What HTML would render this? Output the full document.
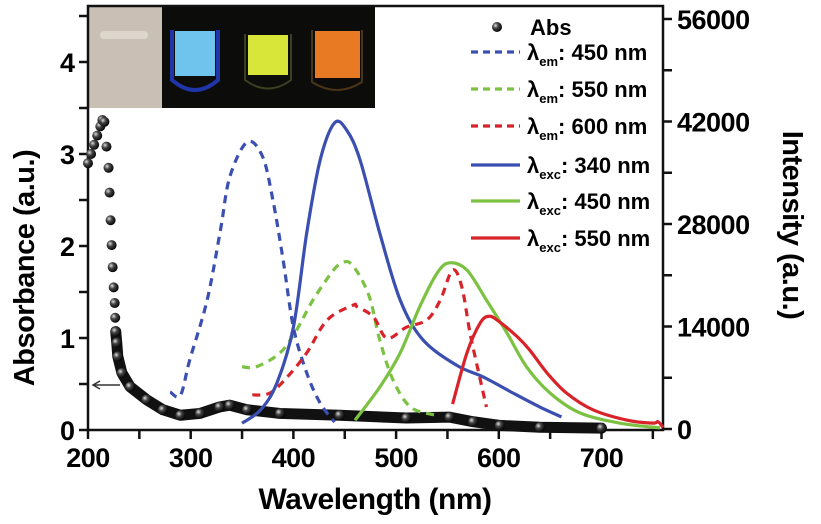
<!DOCTYPE html>
<html><head><meta charset="utf-8">
<style>
body{margin:0;background:#fff;}
svg{display:block;font-family:"Liberation Sans",Arial,sans-serif;font-weight:bold;}
</style></head>
<body>
<svg id="chart" width="821" height="524" viewBox="0 0 821 524" xmlns="http://www.w3.org/2000/svg">
<defs>
<radialGradient id="dotg" cx="0.35" cy="0.35" r="0.7">
<stop offset="0" stop-color="#ddd"/><stop offset="0.4" stop-color="#444"/><stop offset="1" stop-color="#000"/>
</radialGradient>
</defs>
<g id="inset">
<rect x="88" y="6" width="287" height="102" fill="#0c0c0a"/>
<rect x="88" y="6" width="74" height="102" fill="#c9bfb5"/>
<rect x="100" y="31" width="48" height="8" rx="4" fill="#ddd6cc"/>
<path d="M172 30V80Q195 100 218 80V30" fill="none" stroke="#1f35a8" stroke-width="4"/>
<rect x="175" y="31" width="40" height="45" fill="#6fc4ee"/>
<path d="M245 34V80Q268 97 291 80V34" fill="none" stroke="#3a4020" stroke-width="2"/>
<rect x="248" y="35" width="40" height="40" fill="#d8e63a"/>
<path d="M312 30V82Q337 98 362 82V30" fill="none" stroke="#4a3418" stroke-width="2"/>
<rect x="315" y="31" width="45" height="47" fill="#e77a22"/>
</g>
<g id="axes"></g>
<g id="series"></g>
<g id="legend"></g>
<text x="375" y="509" font-size="30" text-anchor="middle" letter-spacing="-0.5">Wavelength (nm)</text>
<text transform="translate(34,268) rotate(-90)" font-size="29" text-anchor="middle" letter-spacing="-0.5">Absorbance (a.u.)</text>
<text transform="translate(783,225) rotate(90)" font-size="29" text-anchor="middle" letter-spacing="-0.5">Intensity (a.u.)</text>
</svg>
<script>
// ---- data ----
const xTicks = [200,300,400,500,600,700];
const leftTicks = [0,1,2,3,4];
const rightTicks = [0,14000,28000,42000,56000];
const absNm = [200,203,206,209,212,214,216,218,220,221,222,223,224,225,226,226.5,227,228,229,233,241,257,273,290,309,328,338,355,387,445,510,552,575,601,640,700];
const absVal = [2.9,3.0,3.1,3.2,3.3,3.37,3.35,3.08,2.85,2.58,2.28,2.01,1.77,1.55,1.38,1.22,1.07,0.95,0.8,0.62,0.47,0.33,0.22,0.16,0.18,0.25,0.27,0.22,0.18,0.16,0.13,0.14,0.09,0.05,0.03,0.02];
const em450Nm = [280,290,299,316,329,338,355,370,380,390,400,413,426,440];
const em450Val = [5050,4600,9400,17600,27200,34400,39200,37200,31300,23100,13900,7650,3550,950];
const em550Nm = [350,364,387,403,419,439,448,455,465,475,484,497,514,538];
const em550Val = [8500,8500,10400,13500,17600,21700,22700,22700,20800,17600,12200,6700,3000,1900];
const em600Nm = [360,377,394,413,433,458,462,478,491,510,530,543,555,564,572,582,588];
const em600Val = [4650,4900,7100,10400,14900,16900,16700,15300,12400,13900,14900,17600,21700,19400,13100,6700,3000];
const ex340Nm = [350,368,384,400,413,426,440,452,465,484,504,526,559,585,614,640,661];
const ex340Val = [800,2600,6300,13900,26800,36700,41800,40800,36700,26800,17600,12200,8700,7100,4900,3000,1650];
const ex450Nm = [460,484,504,523,540,552,569,588,608,627,650,679,718,757];
const ex450Val = [1200,5700,10400,16700,21300,22700,21700,17600,13100,8500,4900,2200,800,150];
const ex550Nm = [555,569,582,591,601,618,630,647,666,692,725,750,755,760];
const ex550Val = [3400,10400,14500,15400,14600,12600,10800,7650,4900,2600,1200,800,1000,200];

// ---- scales ----
const X0=88, XR=663, YB=430, YT=6;
const sx = nm => X0 + (nm-200)*1.027;
const sA = a => 430 - a*92;
const sI = v => 429 - v/56000*410;
const NS="http://www.w3.org/2000/svg";
function mk(tag, attrs, parent){const e=document.createElementNS(NS,tag);for(const k in attrs)e.setAttribute(k,attrs[k]);parent.appendChild(e);return e;}
const axes=document.getElementById('axes'), series=document.getElementById('series'), legend=document.getElementById('legend');

let f=mk('path',{d:`M${X0} ${YT}H${XR}V${YB}H${X0}Z`,fill:'none',stroke:'#111','stroke-width':2.5},axes);


for(let nm=200;nm<=750;nm+=50){
  const t=mk('line',{x1:sx(nm),x2:sx(nm),y1:YB,y2:YB+9,stroke:'#111','stroke-width':2.5},axes);
  
  
}
xTicks.forEach(v=>{
  const t=mk('text',{x:sx(v),y:YB+37,'font-size':27,'text-anchor':'middle','letter-spacing':'-0.5'},axes);t.textContent=v;
  
  
});
for(let a=0;a<=4.5;a+=0.5){
  const t=mk('line',{x1:X0-9,x2:X0,y1:sA(a),y2:sA(a),stroke:'#111','stroke-width':2.5},axes);
  
  
}
leftTicks.forEach(v=>{
  const t=mk('text',{x:X0-13,y:sA(v)+10,'font-size':27,'text-anchor':'end'},axes);t.textContent=v;
  
  
});
for(let v=0;v<=56000;v+=7000){
  const t=mk('line',{x1:XR,x2:XR+9,y1:sI(v),y2:sI(v),stroke:'#111','stroke-width':2.5},axes);
  
  
}
rightTicks.forEach(v=>{
  const t=mk('text',{x:XR+14,y:sI(v)+10,'font-size':27,'letter-spacing':'-0.5'},axes);t.textContent=v;
  
  
});
let ar=mk('path',{d:'M120 385H94M100 381L93 385L100 389',fill:'none',stroke:'#333','stroke-width':1.5},axes);



const absPts=absNm.map((n,i)=>[sx(n),sA(absVal[i])]);
const tail=absPts.filter((p,i)=>absNm[i]>=227);
let ap=mk('path',{d:'M'+tail.map(p=>p.join(' ')).join('L'),fill:'none',stroke:'#111','stroke-width':11,'stroke-linejoin':'round','stroke-linecap':'round'},series);


absPts.forEach(p=>{
  const c=mk('circle',{cx:p[0],cy:p[1],r:5,fill:'url(#dotg)'},series);
  
  
});
function smooth(pts){let d=`M${pts[0][0]} ${pts[0][1]}`;for(let i=0;i<pts.length-1;i++){const p0=pts[i-1]||pts[i],p1=pts[i],p2=pts[i+1],p3=pts[i+2]||p2;d+=`C${p1[0]+(p2[0]-p0[0])/6} ${p1[1]+(p2[1]-p0[1])/6} ${p2[0]-(p3[0]-p1[0])/6} ${p2[1]-(p3[1]-p1[1])/6} ${p2[0]} ${p2[1]}`;}return d;}
const specs=[
 [em450Nm,em450Val,'#3a4fb0',true,'em450-curve'],
 [em550Nm,em550Val,'#7cc242',true,'em550-curve'],
 [em600Nm,em600Val,'#d8232a',true,'em600-curve'],
 [ex340Nm,ex340Val,'#3a4fb0',false,'exc340-curve'],
 [ex450Nm,ex450Val,'#7cc242',false,'exc450-curve'],
 [ex550Nm,ex550Val,'#d8232a',false,'exc550-curve']];
specs.forEach(s=>{
  const pts=s[0].map((n,i)=>[sx(n),sI(s[1][i])]);
  const p=mk('path',{d:smooth(pts),fill:'none',stroke:s[2],'stroke-width':3.2},series);
  if(s[3])p.setAttribute('stroke-dasharray','8 6');
  
  
});
const legY=[52,89,126,165,201,238];
const legLabels=[['em','450'],['em','550'],['em','600'],['exc','340'],['exc','450'],['exc','550']];
let lc=mk('circle',{cx:497,cy:27,r:5,fill:'url(#dotg)'},legend);


let lt=mk('text',{x:530,y:35,'font-size':22},legend);lt.textContent='Abs';


specs.forEach((s,i)=>{
  const y=legY[i];
  const l=mk('line',{x1:471,x2:520,y1:y,y2:y,stroke:s[2],'stroke-width':3.2},legend);
  if(s[3])l.setAttribute('stroke-dasharray','7 5');
  
  
  const t=mk('text',{x:527,y:y+8,'font-size':22},legend);
  
  
  t.innerHTML=`λ<tspan font-size="13" dy="6">${legLabels[i][0]}</tspan><tspan dy="-6">: ${legLabels[i][1]} nm</tspan>`;
});
</script>
</body></html>
